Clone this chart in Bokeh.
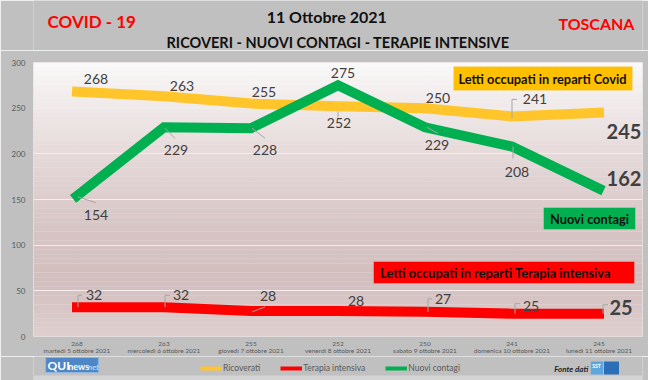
import numpy as np
from bokeh.plotting import figure
from bokeh.layouts import column
from bokeh.models import (Range1d, FixedTicker, LinearAxis, Label, BoxAnnotation,
                          Legend, LegendItem, ColumnDataSource)
from bokeh.core.properties import value
from bokeh.embed import file_html
from bokeh.resources import INLINE

# ---------------- data ----------------
days = ["martedì 5 ottobre 2021", "mercoledì 6 ottobre 2021", "giovedì 7 ottobre 2021",
        "venerdì 8 ottobre 2021", "sabato 9 ottobre 2021", "domenica 10 ottobre 2021",
        "lunedì 11 ottobre 2021"]
ricoverati = [268, 263, 255, 252, 250, 241, 245]
terapia = [32, 32, 28, 28, 27, 25, 25]
contagi = [154, 229, 228, 275, 229, 208, 162]
y_ticks = [0, 50, 100, 150, 200, 250, 300]

# label offsets (px, screen, y up) for the value labels
off_ric = [(19, 13), (18, 10), (13, 12), (1, -17), (13, 10), (23, 17), (25, -19)]
off_con = [(19, -19), (12, -23), (14, -22), (5, 12), (12, -18), (5, -25), (25, 10)]
off_ter = [(17, 12), (17, 12), (17, 15), (18, 10), (18, 13), (19, 8), (22, 6)]
# leader lines (px offsets from the point, y up); None = no leader
lead_ric = [None, None, None, [(0, -5), (0, -11)], None, [(0, -2), (0, 17), (5, 17)], None]
lead_con = [[(1, -1), (19, -7)], [(1, -1), (11, -11)], [(1, 0), (14, -10)], None,
            [(2, 0), (13, -6)], [(1, 0), (1, -12)], None]
lead_ter = [[(1, 0), (1, 12), (5, 12)], [(1, 0), (1, 12), (6, 12)], [(1, -1), (14, 4)], None,
            [(3, 0), (3, 13), (7, 13)], [(3, 0), (3, 10), (8, 10)], [(4, 0), (4, 9), (9, 9)]]

FONT = "Lato"
YEL, GRN, RED = "#FFC52A", "#00B050", "#FF0000"
LAB = "#404040"
BG = "#c0c0c0"
W = 648

# ================= top strip (titles) =================
top = figure(width=W, height=50, output_backend="svg", toolbar_location=None,
             x_range=Range1d(0, W), y_range=Range1d(50, 0),
             min_border=0, x_axis_location=None, y_axis_location=None)
top.border_fill_color = BG
top.background_fill_color = BG
top.outline_line_color = None
top.grid.visible = False

def ttext(fig, txt, x, y, size, color, style="bold", align="center"):
    fig.text(x=[x], y=[y], text=[txt], text_align=align, text_baseline="middle",
             text_font=value(FONT), text_font_size=size, text_font_style=style,
             text_color=color)

ttext(top, "COVID - 19", 62, 21, "17px", "#FF0000")
ttext(top, "TOSCANA", 599, 23, "16px", "#FF0000")
ttext(top, "11 Ottobre 2021", 312, 16, "16px", "#111111")
ttext(top, "RICOVERI - NUOVI CONTAGI - TERAPIE INTENSIVE", 324, 42, "14.5px", "#111111")

# ================= main chart =================
FL, FR, FT, FB = 33, 6, 12, 20
p = figure(width=W, height=306, output_backend="svg", toolbar_location=None,
           x_range=Range1d(-0.5, 6.5), y_range=Range1d(0, 300),
           min_border_left=FL, min_border_right=FR, min_border_top=FT, min_border_bottom=FB,
           x_axis_location=None, y_axis_location=None)
p.border_fill_color = BG
p.outline_line_color = None
p.background_fill_color = "#efe6e6"

# frame-relative helpers (reference pixel -> frame screen coords)
def sx(rx):
    return rx - 33
def sy(ry):
    return 336 - ry

# background gradient
stops_v = [0, 60, 120, 200, 260, 300]
stops_c = np.array([(222, 207, 207), (211, 190, 190), (215, 197, 197),
                    (229, 217, 217), (242, 236, 236), (250, 249, 249)], float)
edges = np.linspace(0, 300, 61)
mids = (edges[:-1] + edges[1:]) / 2
cols = []
for m in mids:
    c = [np.interp(m, stops_v, stops_c[:, k]) for k in range(3)]
    cols.append("#%02x%02x%02x" % tuple(int(round(v)) for v in c))
p.quad(left=-0.5, right=6.5, bottom=edges[:-1], top=edges[1:], fill_color=cols, line_color=None)
p.hspan(y=y_ticks[1:-1], line_color="#f3eded", line_width=1)

# axes
yax = LinearAxis(ticker=FixedTicker(ticks=y_ticks), axis_line_color=None,
                 major_tick_line_color=None, minor_tick_line_color=None,
                 major_tick_out=0, major_tick_in=0,
                 major_label_text_font_size="8px", major_label_text_color="#595959",
                 major_label_text_font=FONT, major_label_standoff=8)
p.add_layout(yax, "left")

xs = list(range(len(days)))
common = dict(axis_line_color=None, major_tick_line_color=None, minor_tick_line_color=None,
              major_tick_out=0, major_tick_in=0, major_label_text_color="#595959",
              major_label_text_font=FONT, major_label_text_font_size="6.5px")
xax1 = LinearAxis(ticker=FixedTicker(ticks=xs),
                  major_label_overrides={i: str(v) for i, v in enumerate(ricoverati)},
                  major_label_standoff=5, **common)
xax2 = LinearAxis(ticker=FixedTicker(ticks=xs),
                  major_label_overrides={i: d for i, d in enumerate(days)},
                  major_label_standoff=-2, **common)
p.add_layout(xax1, "below")
p.add_layout(xax2, "below")

# lines
src = ColumnDataSource(dict(x=xs, ric=ricoverati, ter=terapia, con=contagi))
p.line("x", "ric", source=src, line_color=YEL, line_width=10, line_cap="square", line_join="miter")
p.line("x", "ter", source=src, line_color=RED, line_width=10, line_cap="square", line_join="miter")
p.line("x", "con", source=src, line_color=GRN, line_width=10, line_cap="square", line_join="miter")

# leader lines (pixel offsets converted through the frame scale)
PXX = 609 / 7.0
PXY = 274 / 300.0
lxs, lys = [], []
for vals, leads in ((ricoverati, lead_ric), (contagi, lead_con), (terapia, lead_ter)):
    for i, (v, ld) in enumerate(zip(vals, leads)):
        if ld is None:
            continue
        lxs.append([i + dx / PXX for dx, dy in ld])
        lys.append([v + dy / PXY for dx, dy in ld])
p.multi_line(xs=lxs, ys=lys, line_color="#a6a6a6", line_width=1)

# value labels
def add_labels(vals, offs):
    n = len(vals)
    for i, (v, (dx, dy)) in enumerate(zip(vals, offs)):
        big = (i == n - 1)
        p.add_layout(Label(x=i, y=v, x_offset=dx, y_offset=dy, text=str(v),
                           text_align="center", text_baseline="middle",
                           text_font=FONT, text_color=LAB,
                           text_font_size="20px" if big else "14px",
                           text_font_style="bold" if big else "normal"))

add_labels(ricoverati, off_ric)
add_labels(contagi, off_con)
add_labels(terapia, off_ter)

# callout boxes
def callout(l, t, r, b, fill, text, cx, cy, size):
    p.add_layout(BoxAnnotation(left=sx(l), right=sx(r), top=sy(t), bottom=sy(b),
                               left_units="screen", right_units="screen",
                               top_units="screen", bottom_units="screen",
                               fill_color=fill, fill_alpha=1, line_color="#f0e4c8",
                               line_width=1, level="annotation"))
    p.add_layout(Label(x=sx(cx), y=sy(cy), x_units="screen", y_units="screen", text=text,
                       text_align="center", text_baseline="middle", text_font=FONT,
                       text_font_style="bold", text_font_size=size, text_color="#111111"))

callout(453, 66, 632, 90, "#FFC000", "Letti occupati in reparti Covid", 542, 78, "12.8px")
callout(543, 207, 635, 229, GRN, "Nuovi contagi", 589, 218, "12.8px")
callout(373, 261, 634, 283, RED, "Letti occupati in reparti Terapia intensiva", 495, 272, "12.8px")

# ================= bottom strip (legend, logos) =================
bot = figure(width=W, height=24, output_backend="svg", toolbar_location=None,
             x_range=Range1d(0, W), y_range=Range1d(380, 356),
             min_border=0, x_axis_location=None, y_axis_location=None)
bot.border_fill_color = BG
bot.background_fill_color = BG
bot.outline_line_color = None
bot.grid.visible = False
bot.quad(left=[0], right=[W], top=[375], bottom=[380], fill_color="#d4d4d4", line_color=None)

lr = bot.line(xs, ricoverati, line_color=YEL, line_width=4, visible=False)
lt = bot.line(xs, terapia, line_color=RED, line_width=4, visible=False)
lc = bot.line(xs, contagi, line_color=GRN, line_width=4, visible=False)
leg = Legend(items=[LegendItem(label="Ricoverati", renderers=[lr]),
                    LegendItem(label="Terapia intensiva", renderers=[lt]),
                    LegendItem(label="Nuovi contagi", renderers=[lc])],
             location=(167, 7), orientation="horizontal",
             background_fill_alpha=0, border_line_color=None,
             label_text_font=FONT, label_text_font_size="8.5px", label_text_color="#595959",
             glyph_width=22, glyph_height=8, label_standoff=1, spacing=20,
             padding=0, margin=0, label_height=10)
bot.add_layout(leg, "center")

bot.quad(left=[13], right=[69], top=[357], bottom=[372], fill_color="#4f86c6",
         line_color="#8fb4de")
ttext(bot, "QUI", 15, 365, "12px", "#ffffff", align="left")
ttext(bot, "news", 37, 366, "9px", "#ffffff", align="left")
ttext(bot, ".net", 56, 366, "8px", "#cfe3f7", style="italic", align="left")
ttext(bot, "Fonte dati", 554, 368, "8px", "#262626", style="bold italic", align="left")
bot.quad(left=[593, 607], right=[606, 623], top=[361, 361], bottom=[374, 374],
         fill_color=["#5ea6e0", "#2a6fb8"], line_color=None)
ttext(bot, "SST", 599, 365, "5px", "#ffffff")

layout = column(top, p, bot, spacing=0)
open("out.html", "w").write(file_html(layout, INLINE))
